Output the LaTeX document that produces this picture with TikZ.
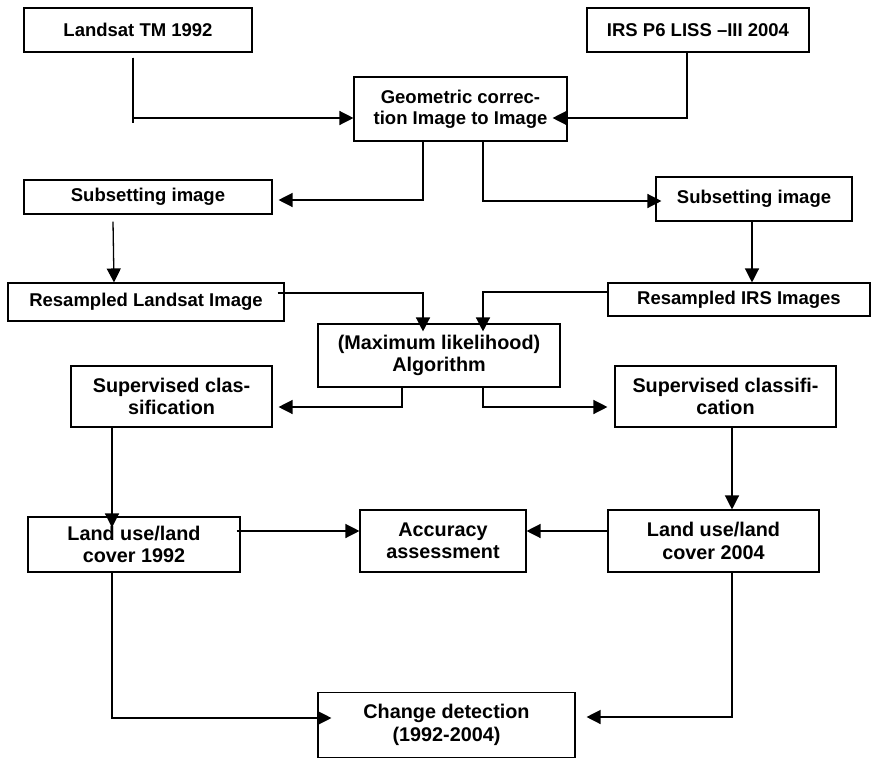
\documentclass[tikz,border=0pt]{standalone}
\usepackage{fontspec}
\setmainfont{Liberation Sans}
\usetikzlibrary{arrows.meta,calc}
\begin{document}
\begin{tikzpicture}[x=1pt,y=-1pt,
  box/.style={draw, line width=1.1pt, inner sep=0pt, align=center, font=\bfseries\fontsize{18.5}{21}\selectfont},
  boxb/.style={box, font=\bfseries\fontsize{19.8}{22.5}\selectfont},
  arr/.style={line width=1.3pt, -{Triangle[length=14pt,width=14pt]}}]
\useasboundingbox[fill=white] (0,0) rectangle (871,758);
% nodes
\node[box, minimum width=228pt, minimum height=44pt] (lt) at (138,30) {Landsat TM 1992};
\node[box, minimum width=222pt, minimum height=44pt] (irs) at (698,30) {IRS P6 LISS –III 2004};
\node[box, minimum width=213pt, minimum height=64pt] (geo) at (460.5,109) {Geometric correc-\\tion Image to Image};
\node[box, minimum width=248pt, minimum height=34pt] (subL) at (148,197) {Subsetting image};
\node[box, minimum width=196pt, minimum height=44pt] (subR) at (754,199) {Subsetting image};
\node[box, minimum width=276pt, minimum height=38pt] (resL) at (146,302) {Resampled Landsat Image};
\node[box, minimum width=262pt, minimum height=33pt] (resR) at (739,299.5) {Resampled IRS Images};
\node[boxb, minimum width=242pt, minimum height=63pt] (ml) at (439,355.5) {(Maximum likelihood)\\Algorithm};
\node[boxb, minimum width=201pt, minimum height=61pt] (supL) at (171.5,396.5) {Supervised clas-\\sification};
\node[boxb, minimum width=221pt, minimum height=61pt] (supR) at (725.5,396.5) {Supervised classifi-\\cation};
\node[boxb, minimum width=212pt, minimum height=55pt] (luL) at (134,544.5) {Land use/land\\cover 1992};
\node[boxb, minimum width=166pt, minimum height=62pt] (acc) at (443,541) {Accuracy\\assessment};
\node[boxb, minimum width=211pt, minimum height=62pt] (luR) at (713.5,541) {Land use/land\\cover 2004};
\node[boxb, minimum width=257pt, minimum height=65pt] (cd) at (446.5,725) {Change detection\\(1992-2004)};
% connectors
\draw[arr] ($(lt.south -| 133,0)+(0,5)$) |- (geo.west |- 0,118);
\draw[line width=2.2pt] ($(lt.south -| 133,0)+(0,5)$) -- ++(0,65);
\draw[arr] (irs.south -| 687,0) |- ($(geo.east |- 0,118)+(-15,0)$);
\draw[arr] (geo.south -| 423,0) |- ($(subL.east |- 0,200)+(6,0)$);
\draw[arr] (geo.south -| 483,0) |- ($(subR.west |- 0,201)+(6,0)$);
\draw[arr] ($(subL.south -| 113,0)+(0,7)$) -- (resL.north -| 114,0);
\draw[arr] ($(resL.east |- 0,293)+(-7,0)$) -| ($(ml.north -| 423,0)+(0,8)$);
\draw[arr] (subR.south -| 752,0) -- (resR.north -| 752,0);
\draw[arr] (resR.west |- 0,292) -| ($(ml.north -| 483,0)+(0,8)$);
\draw[arr] (ml.south -| 402,0) |- ($(supL.east |- 0,407)+(6,0)$);
\draw[arr] (ml.south -| 483,0) |- ($(supR.west |- 0,407)+(-7,0)$);
\draw[arr] (supL.south -| 112,0) -- ($(luL.north -| 112,0)+(0,11)$);
\draw[arr] ($(luL.east |- 0,531)+(-4,0)$) -- (acc.west |- 0,531);
\draw[arr] (luR.west |- 0,531) -- (acc.east |- 0,531);
\draw[arr] (supR.south -| 732,0) -- (luR.north -| 732,0);
\draw[arr] (luL.south -| 112,0) |- ($(cd.west |- 0,718)+(14,0)$);
\draw[arr] (luR.south -| 732,0) |- ($(cd.east |- 0,717)+(11,0)$);
\end{tikzpicture}
\end{document}
